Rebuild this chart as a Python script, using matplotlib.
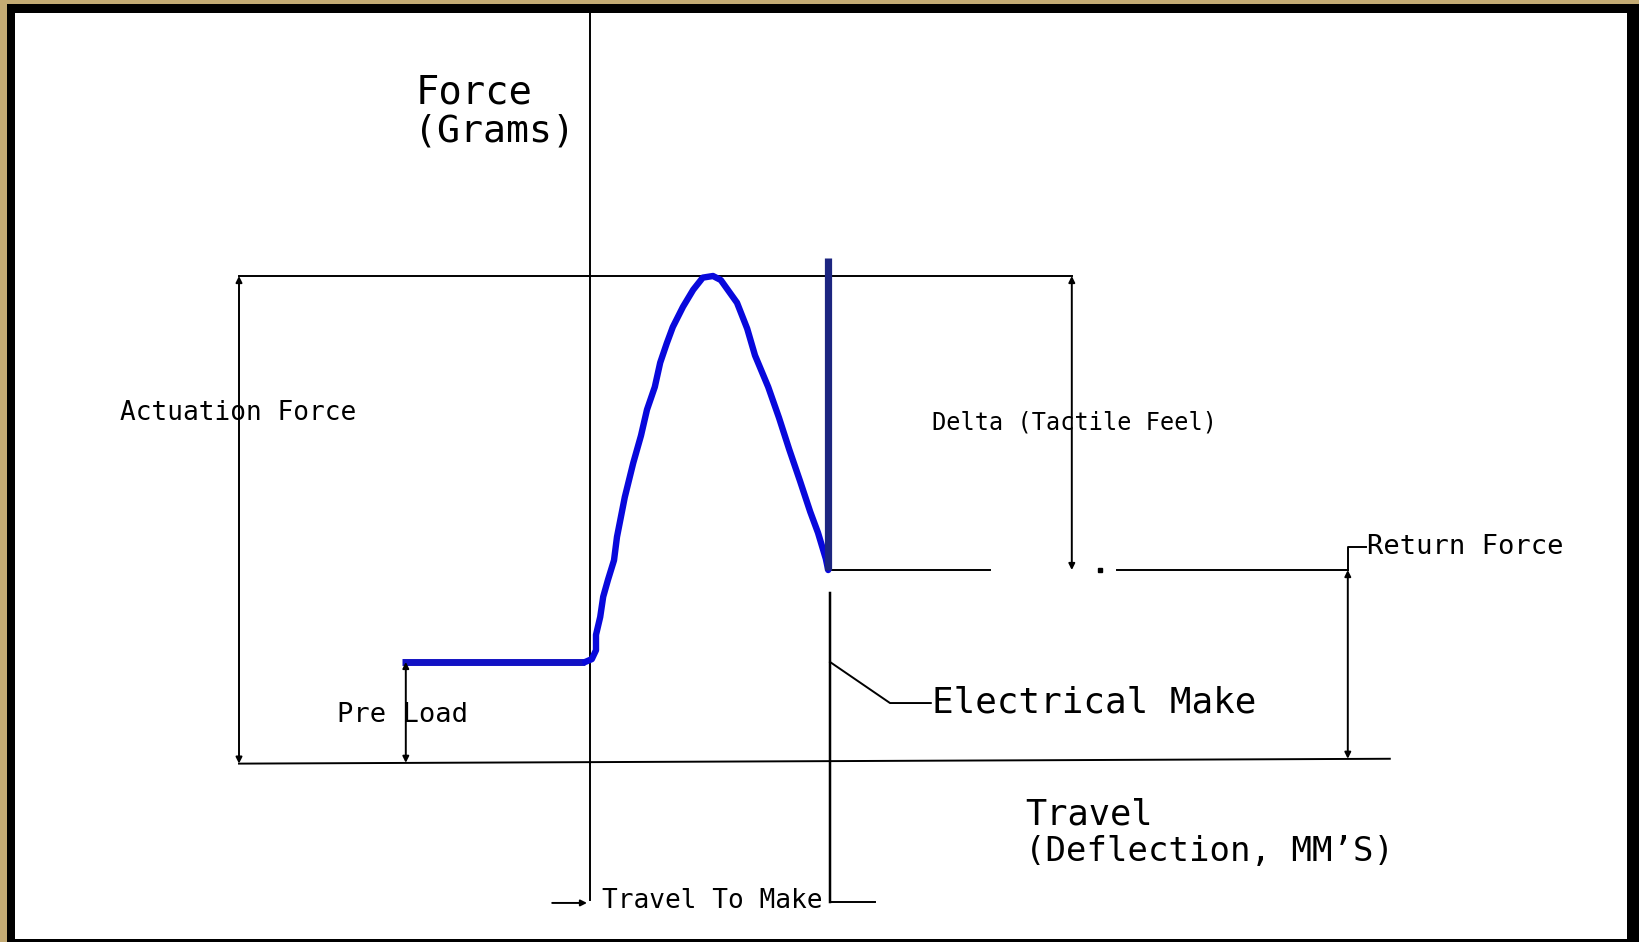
import matplotlib
matplotlib.use("Agg")
import matplotlib.pyplot as plt
from matplotlib.patches import Rectangle

# ---------------- data (travel in mm, force in grams; schematic units) ----------------
curve_travel = [-0.08, 0.03, 0.10, 0.10, 0.17, 0.22, 0.30, 0.40, 0.45, 0.58, 0.72, 0.85,
                0.95, 1.08, 1.17, 1.28, 1.38, 1.55, 1.72, 1.88, 2.05,
                2.18, 2.45, 2.62, 2.75, 2.97, 3.15, 3.32, 3.50, 3.67, 3.80, 3.93, 3.97]
curve_force = [12.35, 12.7, 13.8, 15.7, 17.9, 20.4, 22.5, 24.9, 27.8, 32.7, 36.9, 40.3,
               43.5, 46.3, 49.3, 51.7, 53.7, 56.2, 58.3, 59.8, 60.0,
               59.5, 56.7, 53.5, 50.2, 46.3, 42.5, 38.6, 34.7, 30.9, 28.3, 25.1, 23.7]

preload_start_travel = -3.13
preload_force = 12.35
actuation_force = 60.0
return_force = 23.7
snap_travel = 3.97
snap_top_force = 62.2
make_travel = 4.0

actuation_dim_travel = -5.85
preload_dim_travel = -3.07
delta_dim_travel = 8.03
return_dim_travel = 12.63
baseline_end_travel = 13.33
return_line_gap = (6.67, 8.78)
travel_to_make_level = -17.3
axis_top_force = 92.5

labels = ["Force", "(Grams)", "Actuation Force", "Delta (Tactile Feel)", "Pre Load",
          "Electrical Make", "Travel", "(Deflection, MM\u2019S)", "Return Force", "Travel To Make"]
label_x = [-2.9, -2.93, -7.83, 5.70, -4.22, 5.70, 7.25, 7.25, 12.95, 0.20]
label_y = [82.6, 77.9, 43.1, 41.9, 5.8, 7.3, -6.5, -11.1, 26.5, -17.2]
label_size = [28, 27.5, 18.8, 17, 19.5, 25.8, 25.5, 24.5, 19.5, 18.8]

# ---------------- figure ----------------
W, H = 1639, 942
fig = plt.figure(figsize=(W / 100, H / 100), dpi=100)
fig.patch.set_facecolor("#c4ab74")
fig.add_artist(Rectangle((7 / W, 0), 1 - 7 / W, 938 / H, transform=fig.transFigure,
                         facecolor="black", edgecolor="none", zorder=-3))
fig.add_artist(Rectangle((15 / W, 3 / H), (1627 - 15) / W, (929 - 3) / H,
                         transform=fig.transFigure, facecolor="white", edgecolor="none", zorder=-2))

ax = fig.add_axes([0, 0, 1, 1])
ax.set_xlim(-590 / 60, (W - 590) / 60)
ax.set_ylim(-(H - 762) / 8.1, 762 / 8.1)
ax.axis("off")
ax.patch.set_alpha(0)

K = "black"
lw = 1.4

# force axis
ax.plot([0, 0], [axis_top_force, travel_to_make_level + 0.3], color=K, lw=lw)
# baseline (travel axis)
ax.plot([actuation_dim_travel, baseline_end_travel], [-0.2, 0.4], color=K, lw=lw)
# actuation level line
ax.plot([actuation_dim_travel, delta_dim_travel], [actuation_force, actuation_force], color=K, lw=lw)
# return force level line (with gap)
ax.plot([snap_travel, return_line_gap[0]], [return_force, return_force], color=K, lw=lw)
ax.plot([return_line_gap[1], return_dim_travel], [return_force, return_force], color=K, lw=lw)
ax.plot([8.5], [return_force], marker="s", ms=2.5, color=K)


def dim(x, y0, y1):
    ax.annotate("", xy=(x, y1), xytext=(x, y0),
                arrowprops=dict(arrowstyle="<|-|>", color=K, lw=lw,
                                mutation_scale=9, shrinkA=0, shrinkB=0))


dim(actuation_dim_travel, -0.2, actuation_force)
dim(preload_dim_travel, -0.1, preload_force)
dim(delta_dim_travel, return_force, actuation_force)
dim(return_dim_travel, 0.4, return_force)

# return force leader
ax.plot([return_dim_travel, return_dim_travel, 12.93], [return_force, 26.5, 26.5], color=K, lw=lw)

# electrical make line and leader
ax.plot([make_travel, make_travel], [20.9, travel_to_make_level], color=K, lw=lw + 0.4)
ax.plot([make_travel, 5.0, 5.68], [preload_force, 7.28, 7.28], color=K, lw=lw)
ax.plot([make_travel, 4.75], [travel_to_make_level, travel_to_make_level], color=K, lw=lw)
ax.annotate("", xy=(-0.05, travel_to_make_level - 0.1), xytext=(-0.63, travel_to_make_level - 0.1),
            arrowprops=dict(arrowstyle="-|>", color=K, lw=lw, mutation_scale=9,
                            shrinkA=0, shrinkB=0))

# preload line and force/travel curve
ax.plot([preload_start_travel, curve_travel[0]], [preload_force, preload_force],
        color="#1212c4", lw=5, solid_capstyle="butt")
ax.plot(curve_travel, curve_force, color="#0808dc", lw=4.6,
        solid_capstyle="round", solid_joinstyle="round")
ax.plot([snap_travel, snap_travel], [snap_top_force, return_force],
        color="#1c2580", lw=5.2, solid_capstyle="butt")

for t, x, y, s in zip(labels, label_x, label_y, label_size):
    ax.text(x, y, t, ha="left", va="center", fontsize=s,
            family="DejaVu Sans Mono", color="black")

fig.savefig("out.png", dpi=100)
